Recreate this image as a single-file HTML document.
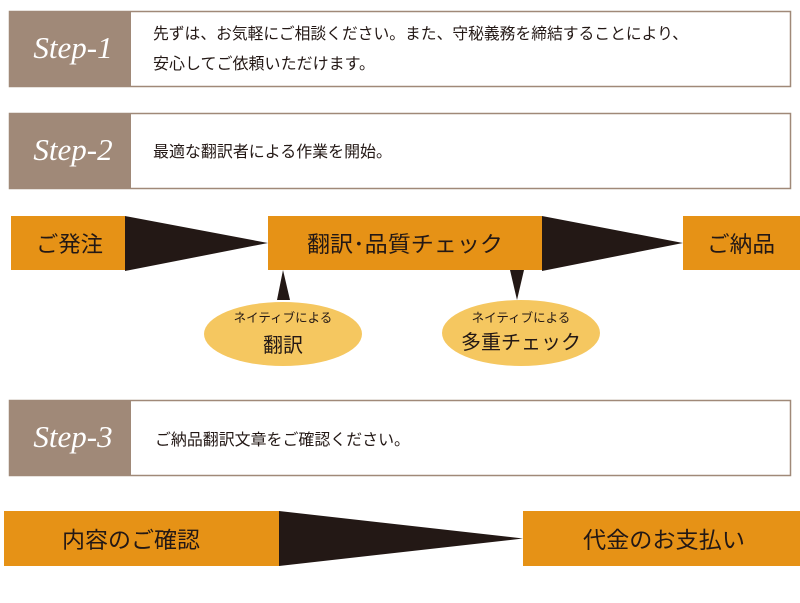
<!DOCTYPE html>
<html><head><meta charset="utf-8"><style>
html,body{margin:0;padding:0;background:#fff;}
svg{display:block}
.jp{font-family:"Liberation Sans","Noto Sans CJK JP",sans-serif;fill:#231815}
.st{font-family:"Liberation Serif","DejaVu Serif",serif;font-style:italic;fill:#fff;font-size:31px}
</style></head><body>
<svg width="800" height="603" viewBox="0 0 800 603" xmlns="http://www.w3.org/2000/svg">
<!-- Step 1 -->
<rect x="9.5" y="11.5" width="781" height="75" fill="#fff" stroke="#a08978" stroke-width="1.5"/>
<rect x="9" y="11" width="122" height="76" fill="#a08978"/>
<text x="73" y="58" text-anchor="middle" class="st">Step-1</text>
<text x="153" y="39" class="jp" font-size="16" textLength="535" lengthAdjust="spacingAndGlyphs">先ずは、お気軽にご相談ください。また、守秘義務を締結することにより、</text>
<text x="153" y="69" class="jp" font-size="16" textLength="222" lengthAdjust="spacingAndGlyphs">安心してご依頼いただけます。</text>
<!-- Step 2 -->
<rect x="9.5" y="113.5" width="781" height="75" fill="#fff" stroke="#a08978" stroke-width="1.5"/>
<rect x="9" y="113" width="122" height="76" fill="#a08978"/>
<text x="73" y="160" text-anchor="middle" class="st">Step-2</text>
<text x="153" y="157" class="jp" font-size="16" textLength="239" lengthAdjust="spacingAndGlyphs">最適な翻訳者による作業を開始。</text>
<!-- flow 1 -->
<rect x="11" y="216" width="114" height="54" fill="#e69216"/>
<polygon points="125,216 268,243 125,271" fill="#231815"/>
<rect x="268" y="216" width="274" height="54" fill="#e69216"/>
<polygon points="542,216 683,243 542,271" fill="#231815"/>
<rect x="683" y="216" width="117" height="54" fill="#e69216"/>
<text x="36" y="252" class="jp" font-size="22" textLength="67" lengthAdjust="spacingAndGlyphs">ご発注</text>
<text x="307" y="252" class="jp" font-size="22" textLength="196" lengthAdjust="spacingAndGlyphs">翻訳･品質チェック</text>
<text x="707" y="252" class="jp" font-size="22" textLength="68" lengthAdjust="spacingAndGlyphs">ご納品</text>
<polygon points="283,270 277,300 290,300" fill="#231815"/>
<polygon points="510,270 524,270 517,300" fill="#231815"/>
<ellipse cx="283" cy="334" rx="79" ry="32" fill="#f5c760"/>
<ellipse cx="521" cy="333" rx="79" ry="33" fill="#f5c760"/>
<text x="283" y="322" text-anchor="middle" class="jp" font-size="12.5">ネイティブによる</text>
<text x="283" y="352" text-anchor="middle" class="jp" font-size="20">翻訳</text>
<text x="521" y="322" text-anchor="middle" class="jp" font-size="12.5">ネイティブによる</text>
<text x="521" y="349" text-anchor="middle" class="jp" font-size="20">多重チェック</text>
<!-- Step 3 -->
<rect x="9.5" y="400.5" width="781" height="75" fill="#fff" stroke="#a08978" stroke-width="1.5"/>
<rect x="9" y="400" width="122" height="76" fill="#a08978"/>
<text x="73" y="447" text-anchor="middle" class="st">Step-3</text>
<text x="155" y="445" class="jp" font-size="16" textLength="255" lengthAdjust="spacingAndGlyphs">ご納品翻訳文章をご確認ください。</text>
<!-- flow 2 -->
<rect x="4" y="511" width="275" height="55" fill="#e69216"/>
<polygon points="279,511 523,538.5 279,566" fill="#231815"/>
<rect x="523" y="511" width="277" height="55" fill="#e69216"/>
<text x="62" y="548" class="jp" font-size="22.5" textLength="138" lengthAdjust="spacingAndGlyphs">内容のご確認</text>
<text x="583" y="548" class="jp" font-size="22.5" textLength="162" lengthAdjust="spacingAndGlyphs">代金のお支払い</text>
</svg>
</body></html>
